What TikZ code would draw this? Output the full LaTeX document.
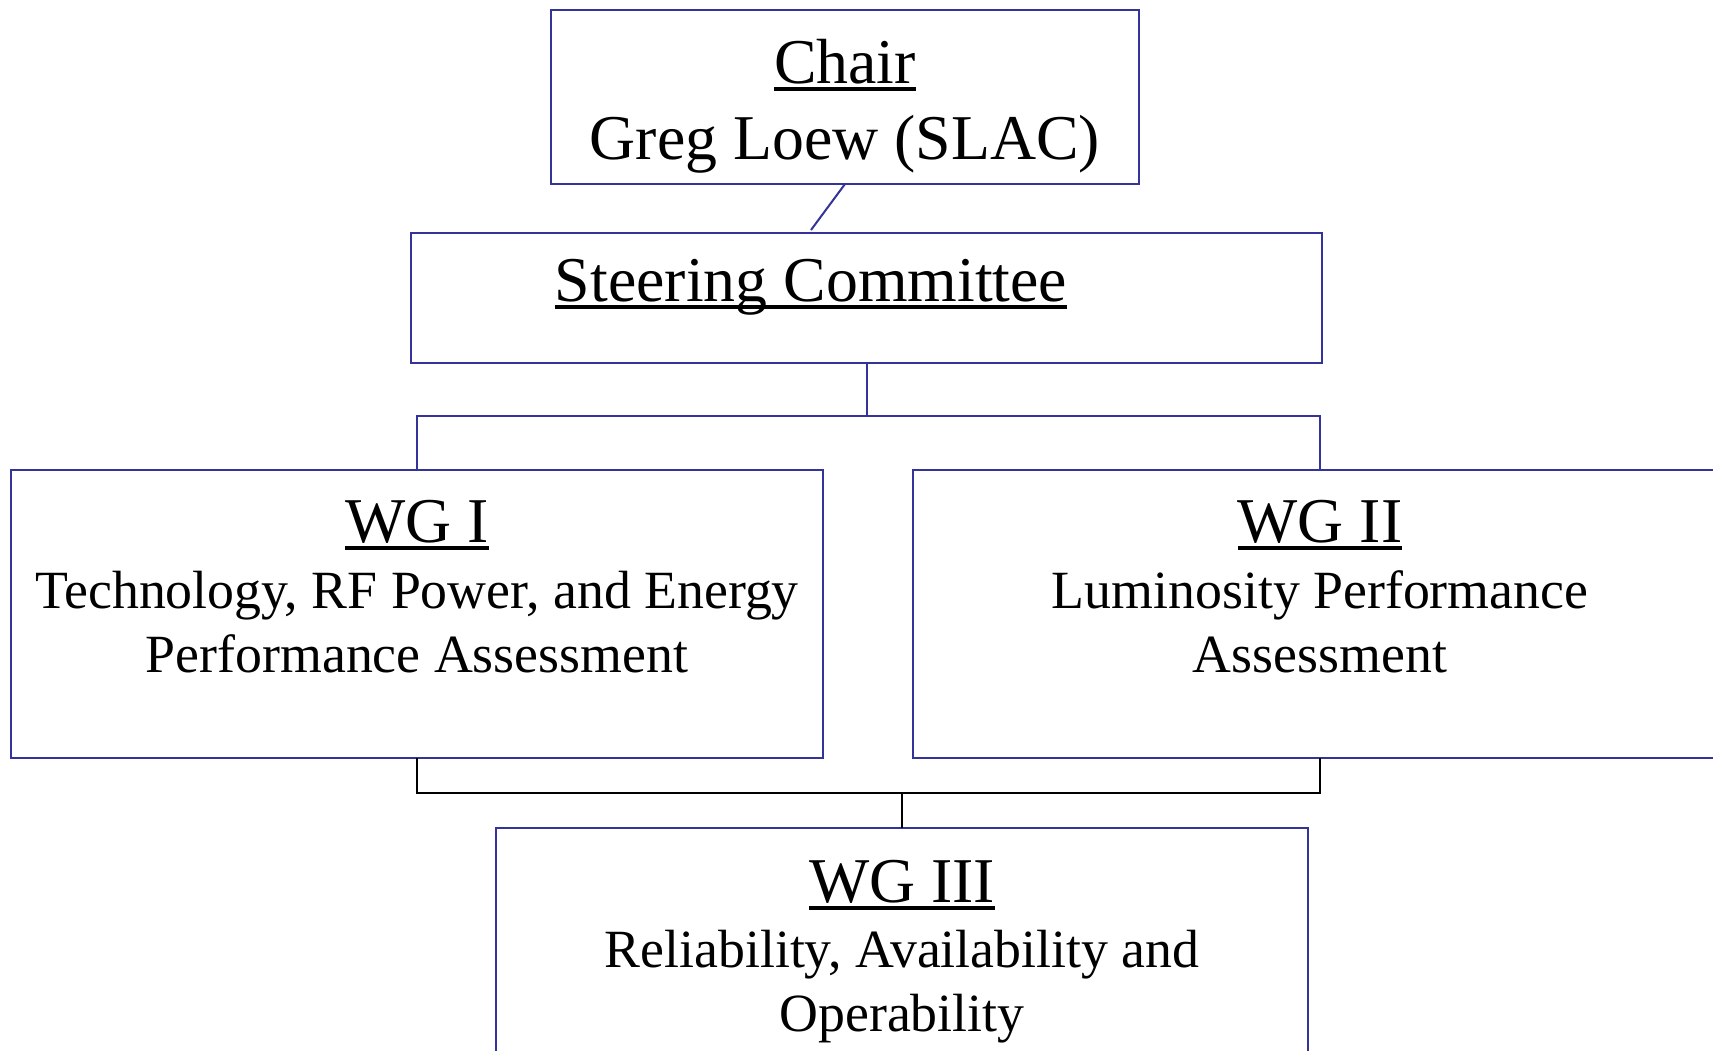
\documentclass[tikz,border=0pt]{standalone}
\usepackage{fontspec}
\setmainfont{Liberation Serif}
\usetikzlibrary{calc}
\definecolor{boxblue}{RGB}{51,51,153}
\newcommand\myul[1]{\setbox0=\hbox{#1}\rlap{\rule[-0.12em]{\wd0}{0.05em}}\box0}
\begin{document}
\begin{tikzpicture}[x=1pt,y=-1pt,
  orgbox/.style={draw=boxblue, line width=2pt, inner sep=0pt, outer sep=0pt, anchor=north west},
  titletext/.style={font=\fontsize{63.8}{76}\selectfont, anchor=base, inner sep=0pt},
  bodytext/.style={font=\fontsize{53.8}{64}\selectfont, anchor=base, inner sep=0pt},
  blueline/.style={draw=boxblue, line width=2pt},
  blackline/.style={draw=black, line width=2pt}]
\useasboundingbox (0,0) rectangle (1713,1050);
\clip (0,0) rectangle (1713,1050);
\fill[white] (0,0) rectangle (1713,1050);
% boxes
\node[orgbox, minimum width=588pt, minimum height=174pt] (chair) at (551,10) {};
\node[orgbox, minimum width=911pt, minimum height=130pt] (steer) at (411,233) {};
\node[orgbox, minimum width=812pt, minimum height=288pt] (wg1) at (11,470) {};
\node[orgbox, minimum width=900pt, minimum height=288pt] (wg2) at (913,470) {};
\node[orgbox, minimum width=812pt, minimum height=300pt] (wg3) at (496,828) {};
% texts
\node[titletext] (chairT) at (845,83) {\myul{Chair}};
\node[titletext] (chairN) at (845,159) {Greg Loew (SLAC)};
\node[titletext] (steerT) at (811,301) {\myul{Steering Committee}};
\node[titletext] (wg1T) at (417,542) {\myul{WG I}};
\node[bodytext] (wg1a) at (417,608) {Technology, RF Power, and Energy};
\node[bodytext] (wg1b) at (417,672) {Performance Assessment};
\node[titletext] (wg2T) at (1320,542) {\myul{WG II}};
\node[bodytext] (wg2a) at (1320,608) {Luminosity Performance};
\node[bodytext] (wg2b) at (1320,672) {Assessment};
\node[titletext] (wg3T) at (902,902) {\myul{WG III}};
\node[bodytext] (wg3a) at (902,967) {Reliability, Availability and};
\node[bodytext] (wg3b) at (902,1031) {Operability};
% connectors
\draw[blueline] (chair.south) -- ($(steer.north -| steerT)+(0,-3)$);
\draw[blueline] (steer.south) -- ++(0,53) coordinate (jt);
\draw[blueline] (wg1.north) |- (jt) -| (wg2.north -| wg2T);
\coordinate (jb) at ($(wg3.north)+(0,-35)$);
\draw[blackline] (wg1.south) |- (jb) -| (wg2.south -| wg2T);
\draw[blackline] (jb) -- (wg3.north);
\end{tikzpicture}
\end{document}
